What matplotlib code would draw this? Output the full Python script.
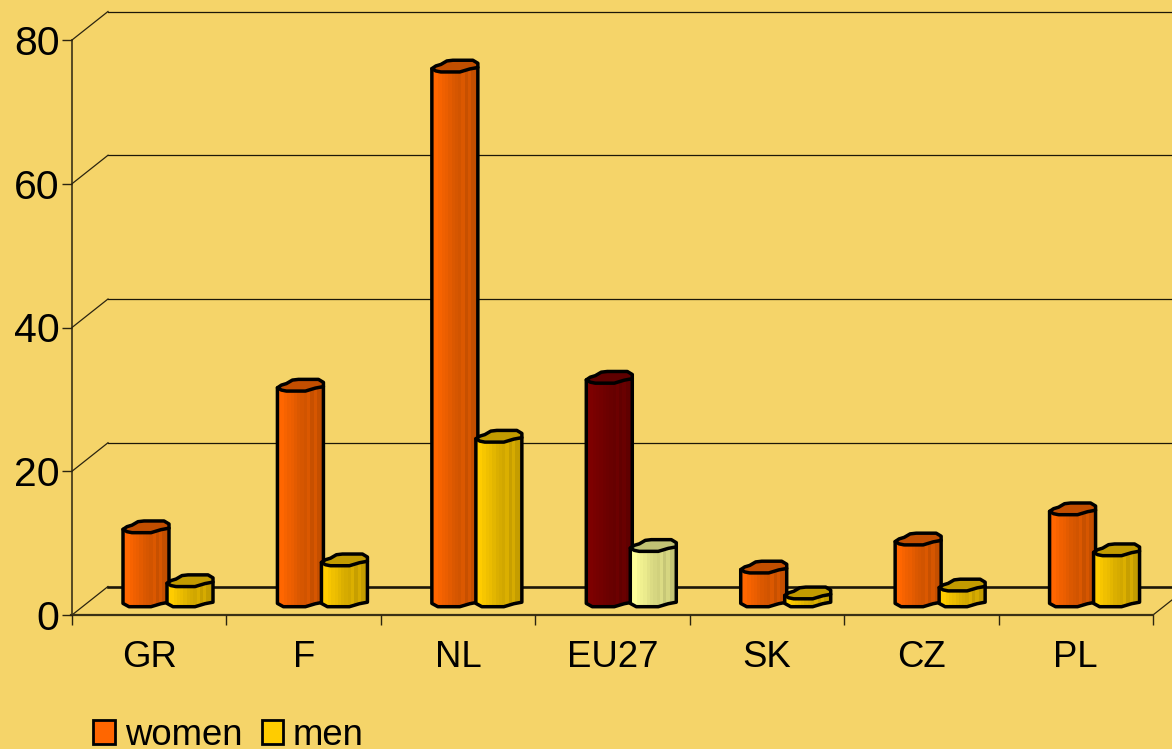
import numpy as np
import matplotlib
matplotlib.use('Agg')
import matplotlib.pyplot as plt
from matplotlib.patches import Patch, Polygon

plt.rcParams['font.family'] = ['Liberation Sans', 'DejaVu Sans']

categories = ['GR', 'F', 'NL', 'EU27', 'SK', 'CZ', 'PL']
women = [10.3, 30.0, 74.4, 31.1, 4.7, 8.6, 12.8]
men = [2.8, 5.7, 22.9, 7.7, 1.1, 2.2, 7.1]
y_ticks = [0, 20, 40, 60, 80]

BG = '#F5D469'
ORANGE = '#FF6600'
YELLOW = '#FFCC00'
DARKRED = '#7D0000'
PALE = '#FFFF99'

W, H = 1172, 749
fig = plt.figure(figsize=(W / 100, H / 100), dpi=100, facecolor=BG)
ax = fig.add_axes([72 / W, (H - 615) / H, (1153 - 72) / W, 575 / H])
ax.set_xlim(0, 7)
ax.set_ylim(0, 80)
ax.set_facecolor('none')
for s in ax.spines.values():
    s.set_visible(False)

# px per data unit, used for the fake 3d depth
px_x = (1153 - 72) / 7
px_y = 575 / 80
dx = 36 / px_x
dy = 28.5 / px_y
lift = 8.3 / px_y
right = 7.5

# back wall and floor
for t in y_ticks:
    lw = 1.9 if t == 0 else 0.9
    ax.plot([dx, right], [t + dy, t + dy], color='#1c1708', lw=lw, clip_on=False, zorder=1)
    ax.plot([0, dx], [t, t + dy], color='#2b2410', lw=0.9, clip_on=False, zorder=1)
ax.plot([7, 7 + dx], [0, dy], color='#2b2410', lw=0.9, clip_on=False, zorder=1)
ax.plot([0, 0], [0, 80], color='#2b2410', lw=1.1, clip_on=False, zorder=1)
ax.plot([-0.005, 7], [0, 0], color='#3a3115', lw=1.6, clip_on=False, zorder=1)

ax.set_xticks(range(8))
ax.set_xticklabels([])
ax.set_yticks(y_ticks)
ax.set_yticklabels([str(t) for t in y_ticks], fontsize=29.5)
ax.tick_params(axis='x', length=7, width=1, color='#2b2410')
ax.tick_params(axis='y', length=7, width=1, color='#2b2410', pad=2)
for i, c in enumerate(categories):
    ax.text(i + 0.5, -5.85, c, ha='center', va='center', fontsize=26.3)

# shading across the bar, left to right
shade = np.array([1.0, 1.0, 0.97, 0.94, 0.92, 0.89, 0.86, 0.84, 0.82, 0.86, 0.78, 0.84, 0.77, 0.76])


def lighten(col, f):
    return np.array(matplotlib.colors.to_rgb(col)) * f


def draw_bar(left, value, col, z):
    # outline in px relative to front left corner of the base
    w = 46.0
    t = value * px_y
    X = lambda u: left + u / px_x
    Y = lambda v: lift + v / px_y
    body = [(0, t + 3.3), (0, 3.3), (6, 0), (28, 0), (38, 3), (46, 4.5), (46, t + 4.5)]
    cap = [(0, t + 3.3), (4, t + 6), (9, t + 7.5), (15, t + 11), (21, t + 11.7), (41, t + 11.7),
           (46, t + 8.7), (46, t + 4.5), (38, t + 3), (28, t), (9, t), (4, t + 1)]
    body_xy = [(X(u), Y(v)) for u, v in body]
    cap_xy = [(X(u), Y(v)) for u, v in cap]
    edges = left + np.linspace(0, w, len(shade) + 1) / px_x
    colors = np.array([[lighten(col, f) for f in shade]])
    mesh = ax.pcolormesh(edges, [Y(0), Y(t + 6)], colors, shading='flat', zorder=z, clip_on=True)
    outline = Polygon(body_xy, closed=True, fc='none', ec='black', lw=2.5, zorder=z + 0.2,
                      clip_on=False, joinstyle='round')
    ax.add_patch(outline)
    clip = Polygon(body_xy, closed=True, transform=ax.transData)
    mesh.set_clip_path(clip)
    ax.add_patch(Polygon(cap_xy, closed=True, fc=lighten(col, 0.76), ec='black', lw=2.5,
                         zorder=z + 0.3, clip_on=False, joinstyle='round'))


for i in range(len(categories)):
    wc = DARKRED if categories[i] == 'EU27' else ORANGE
    mc = PALE if categories[i] == 'EU27' else YELLOW
    x0 = i + 51 / px_x
    draw_bar(x0, women[i], wc, 3 + i)
    draw_bar(x0 + 44 / px_x, men[i], mc, 3.5 + i)

handles = [Patch(fc=ORANGE, ec='black', lw=2), Patch(fc=YELLOW, ec='black', lw=2)]
fig.legend(handles, ['women', 'men'], loc='lower left', bbox_to_anchor=(86 / W, -0.015),
           frameon=False, fontsize=26.3, ncol=2, handlelength=0.6, handleheight=0.62,
           handletextpad=0.26, columnspacing=0.53, borderpad=0.2, borderaxespad=0)

fig.savefig('out.png', dpi=100, facecolor=BG)
